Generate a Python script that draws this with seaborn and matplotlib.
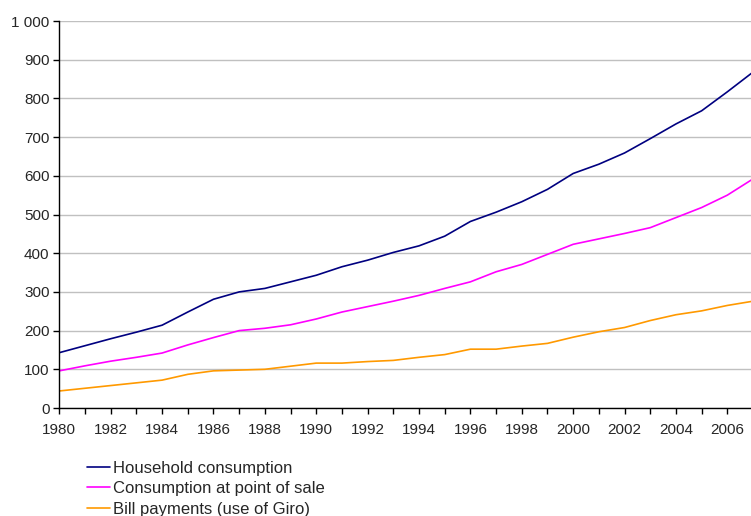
import numpy as np
import pandas as pd
import seaborn as sns
import matplotlib.pyplot as plt
from matplotlib.ticker import FuncFormatter, MultipleLocator

years = list(range(1980, 2008))
household = [143, 161, 179, 196, 214, 248, 281, 300, 309, 326, 343, 365, 382, 402,
             419, 444, 482, 506, 533, 565, 606, 630, 659, 696, 734, 768, 817, 868]
point_of_sale = [96, 109, 121, 131, 142, 163, 182, 200, 206, 215, 230, 248, 262, 276,
                 291, 309, 326, 352, 371, 397, 423, 437, 451, 466, 492, 518, 550, 592]
bill_payments = [44, 51, 58, 65, 72, 87, 96, 98, 100, 108, 116, 116, 120, 123,
                 131, 138, 152, 152, 160, 167, 183, 197, 208, 226, 241, 251, 265, 276]
series_names = ["Household consumption", "Consumption at point of sale",
                "Bill payments (use of Giro)"]
colors = ["#000080", "#FF00FF", "#FF9900"]

df = pd.DataFrame({"year": years * 3,
                   "value": household + point_of_sale + bill_payments,
                   "series": [series_names[0]] * 28 + [series_names[1]] * 28
                             + [series_names[2]] * 28})

sns.set_theme(style="white")
plt.rcParams['font.family'] = ['Liberation Sans', 'DejaVu Sans']

fig = plt.figure(figsize=(7.51, 5.16), dpi=100)
ax = fig.add_axes([0.079, 0.2093, 0.9237, 0.75])
sns.lineplot(data=df, x="year", y="value", hue="series", hue_order=series_names,
             palette=colors, linewidth=1.2, ax=ax, legend=False)

ax.set_xlim(1980, 2007)
ax.set_ylim(0, 1000)
ax.yaxis.set_major_locator(MultipleLocator(100))
ax.xaxis.set_major_locator(MultipleLocator(2))
ax.xaxis.set_minor_locator(MultipleLocator(1))
ax.yaxis.set_major_formatter(FuncFormatter(lambda v, p: f"{int(v):,}".replace(",", " ")))
ax.grid(axis="y", color="#C0C0C0", linewidth=1)
ax.set_axisbelow(True)
ax.set_xlabel("")
ax.set_ylabel("")
for s in ["top", "right"]:
    ax.spines[s].set_visible(False)
for s in ["left", "bottom"]:
    ax.spines[s].set_color("black")
    ax.spines[s].set_linewidth(1)
ax.tick_params(axis="x", which="both", direction="out", length=4, width=1,
               color="black", bottom=True, labelsize=11, pad=7)
ax.tick_params(axis="y", direction="out", length=4, width=1, color="black",
               left=True, labelsize=11, pad=3)

# legend below the plot, cut off at the bottom like the original
handles = [plt.Line2D([], [], color=c, linewidth=1.2) for c in colors]
fig.legend(handles, series_names, loc="upper left", bbox_to_anchor=(0.116, 0.107),
           frameon=False, fontsize=12, handlelength=1.38, handletextpad=0.18,
           labelspacing=0.33, borderaxespad=0, borderpad=0)

fig.savefig("out.png", dpi=100)
